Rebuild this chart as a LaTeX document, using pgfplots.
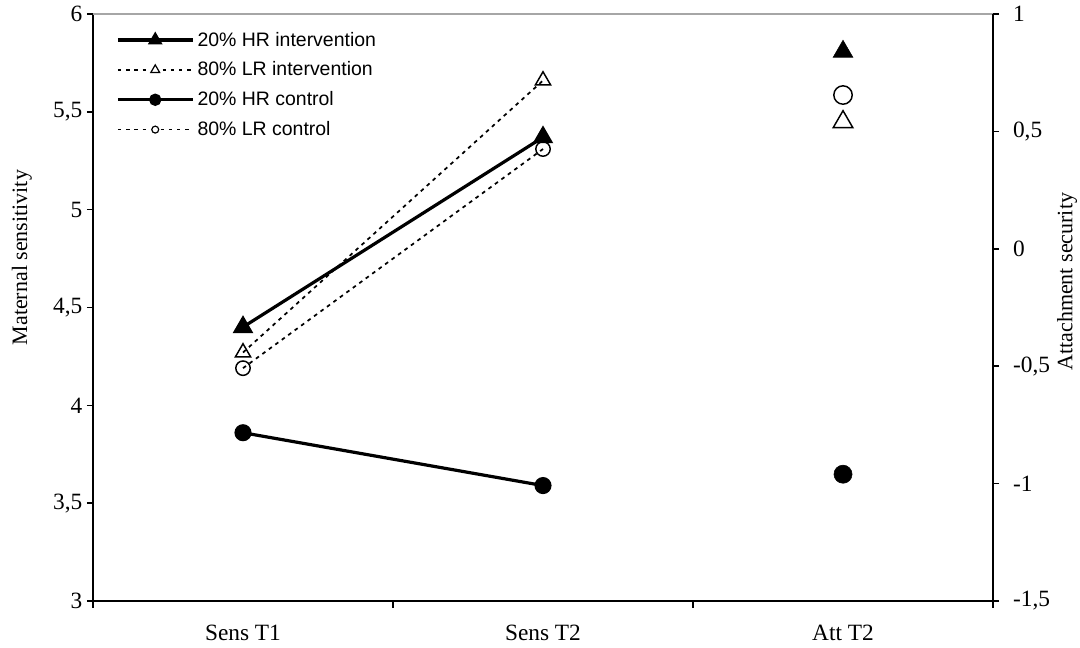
\documentclass[border=0pt]{standalone}
\usepackage{pgfplots}
\pgfplotsset{compat=1.18}
\usepackage{fontspec}
\setmainfont{Liberation Serif}
\newfontfamily\arialfont{Liberation Sans}
\tikzset{
  dashedline/.style={black, line width=1.3pt, dash pattern=on 2.8pt off 3.2pt},
  legdash/.style={black, line width=1.2pt, dash pattern=on 2.5pt off 3.7pt},
  solidline/.style={black, line width=2.4pt},
}
\begin{document}
\begin{tikzpicture}
\begin{axis}[
  at={(0pt,0pt)}, anchor=south west,
  scale only axis, width=675pt, height=440.25pt,
  xmin=0, xmax=3, ymin=3, ymax=6,
  axis x line*=bottom, axis y line*=left,
  axis line style={line width=1.1pt, -},
  xtick={0.5,1.5,2.5}, xticklabels={Sens T1,Sens T2,Att T2},
  minor xtick={0,1,2,3},
  major x tick style={draw=none},
  tick align=outside,
  tick style={black, line width=1.1pt},
  major tick length=4.5pt, minor tick length=5pt,
  ytick={3,3.5,4,4.5,5,5.5,6},
  yticklabels={3,{3,5},4,{4,5},5,{5,5},6},
  tick label style={font=\fontsize{17.5}{20}\selectfont},
  xticklabel style={yshift=-10pt},
  ylabel={Maternal sensitivity},
  every axis y label/.style={at={(axis description cs:-0.079,0.585)}, rotate=90, anchor=center, font=\fontsize{16.5}{19}\selectfont},
  clip=false,
  legend style={at={(axis description cs:0.0256,0.972)}, anchor=north west, draw=none, fill=none,
    inner sep=0pt, nodes={inner xsep=2.5pt, inner ysep=1pt},
    font=\arialfont\fontsize{14.6}{17}\selectfont, row sep=8.3pt, cells={anchor=west}},
]
\draw[gray!70, line width=1.1pt] (rel axis cs:0,1) -- (rel axis cs:1,1);
\addplot[solidline, mark=triangle*, mark size=6.5pt, mark options={solid, fill=black},
  legend image code/.code={\draw[solidline] (0pt,0pt) -- (56pt,0pt);
    \draw[black, mark=triangle*, mark size=4pt, mark options={solid, fill=black}] plot coordinates {(28pt,0pt)};}]
  coordinates {(0.5,4.40) (1.5,5.37)};
\addlegendentry{20\% HR intervention}
\addplot[dashedline, mark=triangle, mark size=6.6pt, mark options={solid, fill=white, line width=1.1pt}, 
  legend image code/.code={\draw[legdash] (0pt,0pt) -- (23pt,0pt); \draw[legdash] (33.5pt,0pt) -- (56pt,0pt);
    \draw[black, solid, line width=0.9pt, mark=triangle, mark size=3.8pt, mark options={solid, fill=white, line width=0.9pt}] plot coordinates {(28pt,0pt)};}]
  coordinates {(0.5,4.27) (1.5,5.66)};
\addlegendentry{80\% LR intervention}
\addplot[solidline, mark=*, mark size=5.2pt, mark options={solid, fill=black},
  legend image code/.code={\draw[solidline] (0pt,0pt) -- (56pt,0pt);
    \draw[black, mark=*, mark size=3.4pt, mark options={solid, fill=black}] plot coordinates {(28pt,0pt)};}]
  coordinates {(0.5,3.86) (1.5,3.59)};
\addlegendentry{20\% HR control}
\addplot[dashedline, mark=o, mark size=5.4pt, mark options={solid, fill=white, line width=1.1pt},
  legend image code/.code={\draw[legdash] (0pt,0pt) -- (24pt,0pt); \draw[legdash] (32pt,0pt) -- (56pt,0pt);
    \draw[black, solid, line width=0.9pt, mark=o, mark size=2.6pt, mark options={solid, fill=white, line width=0.9pt}] plot coordinates {(28pt,0pt)};}]
  coordinates {(0.5,4.19) (1.5,5.31)};
\addlegendentry{80\% LR control}
\end{axis}
\begin{axis}[
  at={(0pt,0pt)}, anchor=south west,
  scale only axis, width=675pt, height=440.25pt,
  xmin=0, xmax=3, ymin=-1.5, ymax=1,
  axis x line=none, axis y line*=right,
  axis line style={line width=1.1pt, -},
  tick align=outside,
  tick style={black, line width=1.1pt},
  major tick length=4.5pt,
  ytick={-1.5,-1,-0.5,0,0.5,1},
  yticklabels={{-1,5},-1,{-0,5},0,{0,5},1},
  tick label style={font=\fontsize{17.5}{20}\selectfont},
  yticklabel style={xshift=7pt},
  ylabel={Attachment security},
  every axis y label/.style={at={(axis description cs:1.0823,0.544)}, rotate=90, anchor=center, font=\fontsize{16.5}{19}\selectfont},
  clip=false,
]
\addplot[only marks, black, mark=triangle*, mark size=8.5pt, mark options={fill=black}] coordinates {(2.5,0.84)};
\addplot[only marks, black, mark=o, mark size=6.9pt, mark options={fill=white, line width=1.1pt}] coordinates {(2.5,0.655)};
\addplot[only marks, black, mark=triangle, mark size=8.5pt, mark options={fill=white, line width=1.1pt}] coordinates {(2.5,0.54)};
\addplot[only marks, black, mark=*, mark size=6.8pt, mark options={fill=black}] coordinates {(2.5,-0.96)};
\end{axis}
\pgfresetboundingbox
\useasboundingbox (-69.75pt,-34.5pt) rectangle (740.25pt,450.75pt);
\end{tikzpicture}
\end{document}
